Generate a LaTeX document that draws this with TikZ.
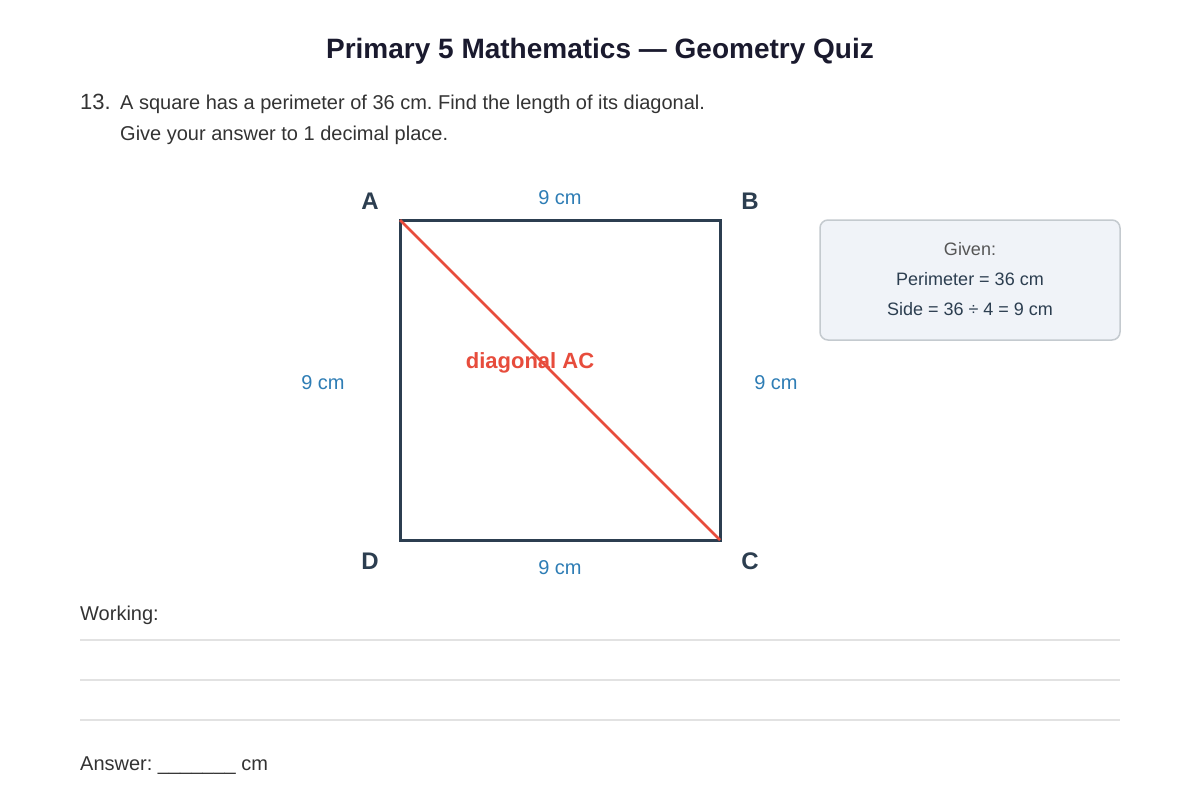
\documentclass[tikz,border=0pt]{standalone}
\usepackage{fontspec}
\setmainfont{Liberation Sans}
\frenchspacing
\definecolor{titlec}{HTML}{1A1A2E}
\definecolor{textc}{HTML}{333333}
\definecolor{sqc}{HTML}{2C3E50}
\definecolor{diagc}{HTML}{E74C3C}
\definecolor{lblc}{HTML}{2E7DB5}
\definecolor{boxfill}{HTML}{F0F3F8}
\definecolor{boxdraw}{HTML}{C4CACF}
\definecolor{linec}{HTML}{E2E2E2}
\definecolor{givenc}{HTML}{555555}
\tikzset{
  vertex/.style={font=\bfseries\fontsize{24}{28}\selectfont, text=sqc, inner sep=0pt},
  dim/.style={font=\fontsize{20}{24}\selectfont, text=lblc, inner sep=0pt},
  body/.style={font=\fontsize{20}{24}\selectfont, text=textc, inner sep=0pt, anchor=base west},
  boxtext/.style={font=\fontsize{18}{22}\selectfont, text=sqc, inner sep=0pt},
  rule/.style={draw=linec, line width=2pt},
}
\begin{document}
\begin{tikzpicture}[x=1pt,y=-1pt]
\useasboundingbox[fill=white] (0,0) rectangle (1200,800);
% title
\node[font=\bfseries\fontsize{28}{32}\selectfont, text=titlec, inner sep=0pt] (title) at (600,51) {Primary 5 Mathematics — Geometry Quiz};
% question
\node[body, font=\fontsize{22}{26}\selectfont] (qnum) at (80,110) {13.};
\node[body] (q1) at (120,110) {A square has a perimeter of 36 cm. Find the length of its diagonal.};
\node[body] (q2) at (120,140) {Give your answer to 1 decimal place.};
% square
\coordinate (A) at (400,220);
\coordinate (B) at (720,220);
\coordinate (C) at (720,540);
\coordinate (D) at (400,540);
\draw[draw=sqc, line width=3pt, line join=miter] (A) -- (B) -- (C) -- (D) -- cycle;
\draw[draw=diagc, line width=2.5pt] (A) -- (C);
\node[vertex] (lA) at (370,201) {A};
\node[vertex] (lB) at (750,201) {B};
\node[vertex] (lC) at (750,561) {C};
\node[vertex] (lD) at (370,561) {D};
\node[dim] (top) at (560,198) {9 cm};
\node[dim] (bot) at (560,568) {9 cm};
\node[dim] (left) at (323,383) {9 cm};
\node[dim] (right) at (776,383) {9 cm};
\node[font=\bfseries\fontsize{22}{26}\selectfont, text=diagc, inner sep=0pt] (dlabel) at (530,363) {diagonal AC};
% given box
\node[draw=boxdraw, fill=boxfill, line width=1.5pt, rounded corners=8pt, minimum width=300pt, minimum height=120pt, inner sep=0pt] (given) at (970,280) {};
\node[boxtext, text=givenc] (g1) at (970,249) {Given:};
\node[boxtext] (g2) at (970,279) {Perimeter = 36 cm};
\node[boxtext] (g3) at (970,309) {Side = 36 ÷ 4 = 9 cm};
% working
\node[body] (work) at (80,620) {Working:};
\coordinate (l1a) at (80,640); \coordinate (l1b) at (1120,640);
\coordinate (l2a) at (80,680); \coordinate (l2b) at (1120,680);
\coordinate (l3a) at (80,720); \coordinate (l3b) at (1120,720);
\draw[rule] (l1a) -- (l1b);
\draw[rule] (l2a) -- (l2b);
\draw[rule] (l3a) -- (l3b);
\node[body] (ans) at (80,770) {Answer:\hspace{5.5pt}\_\_\_\_\_\_\_ cm};
\end{tikzpicture}
\end{document}
